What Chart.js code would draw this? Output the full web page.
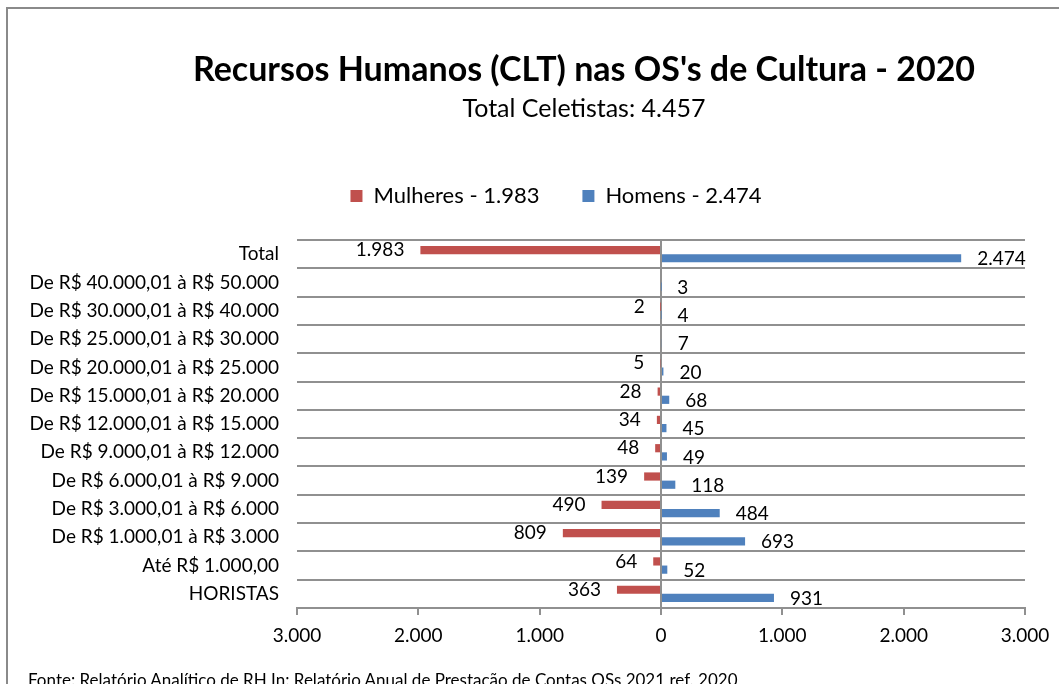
<!DOCTYPE html>
<html lang="pt-BR">
<head>
<meta charset="utf-8">
<title>Recursos Humanos (CLT) nas OS's de Cultura - 2020</title>
<script src="https://cdn.jsdelivr.net/npm/chart.js@4"></script>
<style>
  html, body { margin: 0; padding: 0; background: #fff; overflow: hidden; }
  body { width: 1059px; height: 684px; position: relative; font-family: Lato, "Open Sans", sans-serif; color: #000; }
  #frame { position: absolute; left: 6px; top: 7px; width: 1100px; height: 700px; border-left: 2px solid #8a8a8a; border-top: 2px solid #8a8a8a; }
  #wrap { position: absolute; left: 0; top: 0; width: 1059px; height: 684px; }
  .title { position: absolute; left: 584px; transform: translateX(-50%); white-space: nowrap; line-height: 1.2; }
  #title { top: 48px; font-size: 34px; font-weight: bold; }
  #subtitle { top: 92px; font-size: 25px; }
  #source { position: absolute; left: 28px; top: 670px; font-size: 17px; line-height: 1.2; white-space: nowrap; }
</style>
</head>
<body>
<div id="frame"></div>
<div id="wrap"><canvas id="rhChart" width="1059" height="684"></canvas></div>
<div class="title" id="title">Recursos Humanos (CLT) nas OS's de Cultura - 2020</div>
<div class="title" id="subtitle">Total Celetistas: 4.457</div>
<div id="source">Fonte: Relatório Analítico de RH In: Relatório Anual de Prestação de Contas OSs 2021 ref. 2020</div>

<script>
// Data
const faixas = [
  "Total",
  "De R$ 40.000,01 à R$ 50.000",
  "De R$ 30.000,01 à R$ 40.000",
  "De R$ 25.000,01 à R$ 30.000",
  "De R$ 20.000,01 à R$ 25.000",
  "De R$ 15.000,01 à R$ 20.000",
  "De R$ 12.000,01 à R$ 15.000",
  "De R$ 9.000,01 à R$ 12.000",
  "De R$ 6.000,01 à R$ 9.000",
  "De R$ 3.000,01 à R$ 6.000",
  "De R$ 1.000,01 à R$ 3.000",
  "Até R$ 1.000,00",
  "HORISTAS"
];
const mulheres = [1983, 0, 2, 0, 5, 28, 34, 48, 139, 490, 809, 64, 363];
const homens = [2474, 3, 4, 7, 20, 68, 45, 49, 118, 484, 693, 52, 931];
const xTicks = [-3000, -2000, -1000, 0, 1000, 2000, 3000];

const FONT = "Lato, 'Open Sans', sans-serif";
const GRID = "#909090";

// 1983 -> "1.983"
function fmt(v) {
  return String(Math.abs(v)).replace(/\B(?=(\d{3})+(?!\d))/g, ".");
}

// Value labels next to the bar ends (no datalabels plugin offline)
const barLabels = {
  id: "barLabels",
  afterDatasetsDraw(chart) {
    const ctx = chart.ctx;
    ctx.save();
    ctx.font = "19px " + FONT;
    ctx.fillStyle = "#000";
    ctx.textBaseline = "middle";
    chart.data.datasets.forEach((ds, i) => {
      chart.getDatasetMeta(i).data.forEach((bar, j) => {
        const v = ds.data[j];
        if (!v) return;
        if (v < 0) {
          ctx.textAlign = "right";
          ctx.fillText(fmt(v), bar.x - 16, bar.y);
        } else {
          ctx.textAlign = "left";
          ctx.fillText(fmt(v), bar.x + 16, bar.y + 1);
        }
      });
    });
    ctx.restore();
  }
};

// Room under the legend, and legend nudged right like the original
const legendTweak = {
  id: "legendTweak",
  beforeInit(chart) {
    const fit = chart.legend.fit;
    chart.legend.fit = function () {
      fit.call(this);
      this.height += 23;
    };
  },
  afterLayout(chart) {
    chart.legend.left += 79;
  }
};

new Chart(document.getElementById("rhChart"), {
  type: "bar",
  data: {
    labels: faixas,
    datasets: [
      { label: "Mulheres - 1.983", data: mulheres.map(v => -v), backgroundColor: "#C0504D", borderWidth: 0 },
      { label: "Homens - 2.474", data: homens, backgroundColor: "#4F81BD", borderWidth: 0 }
    ]
  },
  options: {
    indexAxis: "y",
    responsive: false,
    animation: false,
    events: [],
    datasets: { bar: { barPercentage: 1.0, categoryPercentage: 0.58 } },
    layout: { padding: { left: 8, right: 34, top: 142, bottom: 0 } },
    scales: {
      x: {
        min: xTicks[0],
        max: xTicks[xTicks.length - 1],
        afterBuildTicks: s => { s.ticks = xTicks.map(v => ({ value: v })); },
        afterFit: s => { s.height = 76; },
        ticks: { callback: v => fmt(v), color: "#000", font: { family: FONT, size: 19 }, padding: 9, maxRotation: 0 },
        grid: {
          color: c => (c.tick && c.tick.value === 0 ? GRID : "rgba(0,0,0,0)"),
          lineWidth: 2,
          tickColor: GRID,
          tickWidth: 2,
          tickLength: 7
        },
        border: { display: true, color: GRID, width: 2 }
      },
      y: {
        afterFit: s => { s.width = 289; },
        ticks: { color: "#000", font: { family: FONT, size: 19 }, padding: 18, autoSkip: false },
        grid: { color: GRID, lineWidth: 2, drawTicks: false },
        border: { display: false }
      }
    },
    plugins: {
      legend: {
        position: "top",
        labels: { color: "#000", font: { family: FONT, size: 22 }, boxWidth: 12, boxHeight: 12, padding: 43 }
      },
      title: { display: false },
      tooltip: { enabled: false }
    }
  },
  plugins: [barLabels, legendTweak]
});
</script>
</body>
</html>
